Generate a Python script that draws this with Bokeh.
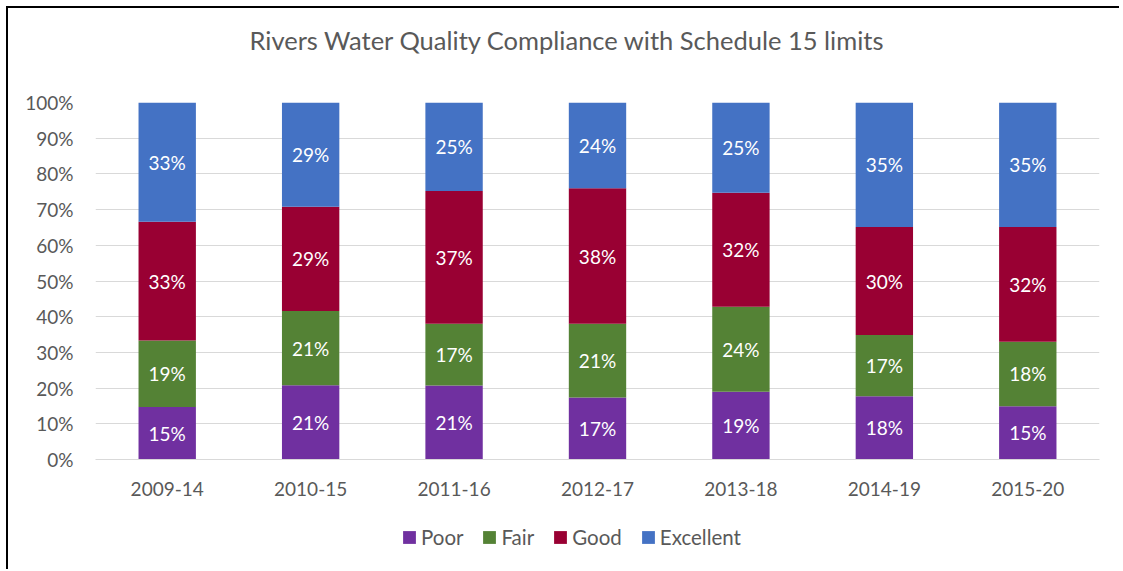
from bokeh.plotting import figure
from bokeh.layouts import column
from bokeh.models import (ColumnDataSource, LabelSet, Label, Legend, LegendItem,
                          NumeralTickFormatter, FixedTicker, Range1d, FactorRange)
from bokeh.core.properties import value
from bokeh.embed import file_html
from bokeh.resources import INLINE

# ---- data (percent of sites) ----
title_text = "Rivers Water Quality Compliance with Schedule 15 limits"
categories = ["2009-14", "2010-15", "2011-16", "2012-17", "2013-18", "2014-19", "2015-20"]
series = ["Poor", "Fair", "Good", "Excellent"]
poor = [14.7, 20.8, 20.7, 17.4, 19.0, 17.7, 14.9]
fair = [18.6, 20.8, 17.3, 20.6, 23.8, 17.2, 18.1]
good = [33.3, 29.2, 37.2, 38.0, 31.9, 30.2, 32.1]
excellent = [33.4, 29.2, 24.8, 24.0, 25.3, 34.9, 34.9]
y_ticks = [0.0, 0.1, 0.2, 0.3, 0.4, 0.5, 0.6, 0.7, 0.8, 0.9, 1.0]

colors = ["#7030A0", "#548235", "#990033", "#4472C4"]
FONT = "Lato"
GREY = "#595959"
W = 1113
EDGE = "2px solid black"

all_vals = [poor, fair, good, excellent]
data = {"cat": categories}
for name, vals in zip(series, all_vals):
    data[name] = [v / 100 for v in vals]
src = ColumnDataSource(data)

# label positions (segment midpoints)
lx, ly, lt = [], [], []
for i, c in enumerate(categories):
    base = 0.0
    for vals in all_vals:
        v = vals[i] / 100
        lx.append(c)
        ly.append(base + v / 2)
        lt.append(f"{int(vals[i] + 0.5)}%")
        base += v
lab_src = ColumnDataSource(dict(x=lx, y=ly, t=lt))


def strip(height, styles):
    f = figure(width=W, height=height, x_range=Range1d(0, 1), y_range=Range1d(0, 1),
               x_axis_type=None, y_axis_type=None, output_backend="svg",
               toolbar_location=None, min_border=0, styles=styles)
    f.outline_line_color = None
    f.xgrid.visible = False
    f.ygrid.visible = False
    return f


# ---- title strip ----
tp = strip(82, {"border-left": EDGE, "border-top": EDGE})
tp.add_layout(Label(x=472, y=51, x_units="screen", y_units="screen", text=title_text,
                    text_align="center", text_baseline="middle",
                    text_font=FONT, text_font_size="25.5px", text_color=GREY))

# ---- main chart ----
p = figure(
    x_range=FactorRange(*categories, range_padding=0),
    y_range=Range1d(0, 1),
    width=W, height=422,
    min_border_left=87, min_border_right=22, min_border_top=14, min_border_bottom=51,
    output_backend="svg", toolbar_location=None,
    styles={"border-left": EDGE},
)
p.outline_line_color = None
p.background_fill_color = "white"
p.border_fill_color = "white"

renderers = p.vbar_stack(series, x="cat", width=0.4, fill_color=colors,
                         line_color=None, source=src)

labels = LabelSet(x="x", y="y", text="t", source=lab_src,
                  text_align="center", text_baseline="middle",
                  text_color="white", text_font=value(FONT), text_font_size="19px")
p.add_layout(labels)

p.yaxis.ticker = FixedTicker(ticks=y_ticks)
p.yaxis.formatter = NumeralTickFormatter(format="0%")
p.yaxis.axis_line_color = None
p.yaxis.major_tick_line_color = None
p.yaxis.minor_tick_line_color = None
p.yaxis.major_label_standoff = 16
p.yaxis.major_label_text_font = FONT
p.yaxis.major_label_text_font_size = "19px"
p.yaxis.major_label_text_color = GREY

p.xaxis.axis_line_color = "#D9D9D9"
p.xaxis.major_tick_line_color = None
p.xaxis.minor_tick_line_color = None
p.xaxis.major_label_standoff = 16
p.xaxis.major_label_text_font = FONT
p.xaxis.major_label_text_font_size = "19px"
p.xaxis.major_label_text_color = GREY

p.xgrid.grid_line_color = None
p.ygrid.grid_line_color = "#D9D9D9"
p.ygrid.grid_line_width = 1

# ---- legend strip ----
lp = strip(59, {"border-left": EDGE})
swatch = ColumnDataSource(dict(x=[0.5], top=[0.0]))
leg_renderers = [lp.vbar(x="x", top="top", width=0.01, fill_color=c, line_color=None,
                         source=swatch) for c in colors]
legend = Legend(
    items=[LegendItem(label=s, renderers=[r]) for s, r in zip(series, leg_renderers)],
    orientation="horizontal", location=(306, 20),
    border_line_color=None, background_fill_alpha=0,
    label_text_font=FONT, label_text_font_size="20.5px", label_text_color=GREY,
    glyph_width=16, glyph_height=16, spacing=18, label_standoff=4,
    padding=0, margin=0,
)
lp.add_layout(legend)

layout = column(tp, p, lp, spacing=0,
                styles={"margin-left": "6px", "margin-top": "6px", "overflow": "visible"})

open("out.html", "w").write(file_html(layout, INLINE))
